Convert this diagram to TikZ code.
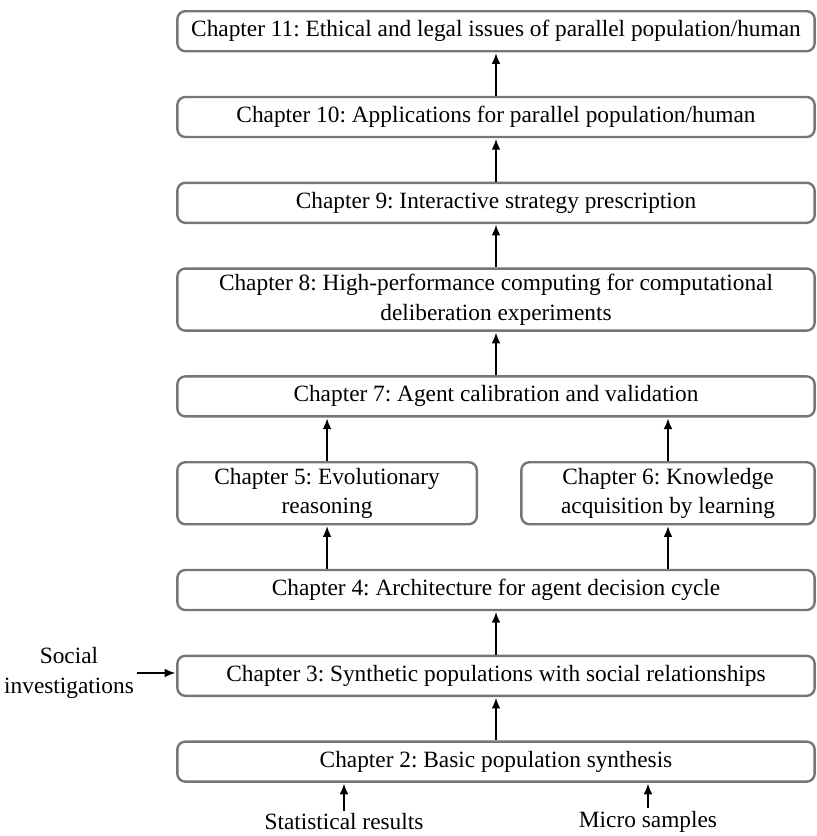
\documentclass[tikz,border=0pt]{standalone}
\usepackage{fontspec}
\setmainfont{Liberation Serif}
\usepackage{xcolor}
\usepackage{tikz}
\usetikzlibrary{arrows.meta,positioning,calc}
\definecolor{boxgray}{HTML}{767676}
\frenchspacing

\begin{document}
\begin{tikzpicture}[
    font=\fontsize{17.5}{22}\selectfont,
    node distance=32.55pt,
    chap/.style={rectangle, rounded corners=6pt, draw=boxgray, fill=white, line width=1.8pt, minimum width=478pt, minimum height=30pt, align=center, inner sep=2pt},
    chap2/.style={chap, minimum height=46.5pt},
    side/.style={align=center, inner sep=2pt},
    arr/.style={-{Latex[length=8pt, width=6.5pt]}, line width=1.1pt, draw=black, shorten >=0.6pt}
]
    \useasboundingbox (0,0) rectangle (612.75pt,-627pt);

    % Upper chain
    \node (ch11) [chap] at (372pt,-23.4pt) {Chapter 11: Ethical and legal issues of parallel population/human};
    \node (ch10) [chap, below=of ch11] {Chapter 10: Applications for parallel population/human};
    \node (ch9) [chap, below=of ch10] {Chapter 9: Interactive strategy prescription};
    \node (ch8) [chap2, below=of ch9] {Chapter 8: High-performance computing for computational\\deliberation experiments};
    \node (ch7) [chap, below=of ch8] {Chapter 7: Agent calibration and validation};

    % Two branches
    \node (ch5) [chap2, minimum width=224.6pt, below right=32.55pt and 0pt of ch7.south west] {Chapter 5: Evolutionary\\reasoning};
    \node (ch6) [chap2, minimum width=220pt, below left=32.55pt and 0pt of ch7.south east] {Chapter 6: Knowledge\\acquisition by learning};
    \coordinate (c56) at (ch7.south |- ch5.south);

    % Lower chain
    \node (ch4) [chap, below=of c56] {Chapter 4: Architecture for agent decision cycle};
    \node (ch3) [chap, below=of ch4] {Chapter 3: Synthetic populations with social relationships};
    \node (ch2) [chap, below=of ch3] {Chapter 2: Basic population synthesis};

    % Inputs
    \node (soc) [side] at (51.75pt,-504.75pt) {Social\\investigations};
    \node (stat) [side] at (258pt,-616.5pt) {Statistical results};
    \node (micro) [side] at (486pt,-616.5pt) {Micro samples};

    % Connectors
    \draw [arr] (soc) -- (soc -| ch3.west);
    \draw [arr] (stat) -- (stat |- ch2.south);
    \draw [arr] (micro) -- (micro |- ch2.south);
    \draw [arr] (ch2) -- (ch3);
    \draw [arr] (ch3) -- (ch4);
    \draw [arr] (ch5 |- ch4.north) -- (ch5);
    \draw [arr] (ch6 |- ch4.north) -- (ch6);
    \draw [arr] (ch5) -- (ch5 |- ch7.south);
    \draw [arr] (ch6) -- (ch6 |- ch7.south);
    \draw [arr] (ch7) -- (ch8);
    \draw [arr] (ch8) -- (ch9);
    \draw [arr] (ch9) -- (ch10);
    \draw [arr] (ch10) -- (ch11);
\end{tikzpicture}
\end{document}
